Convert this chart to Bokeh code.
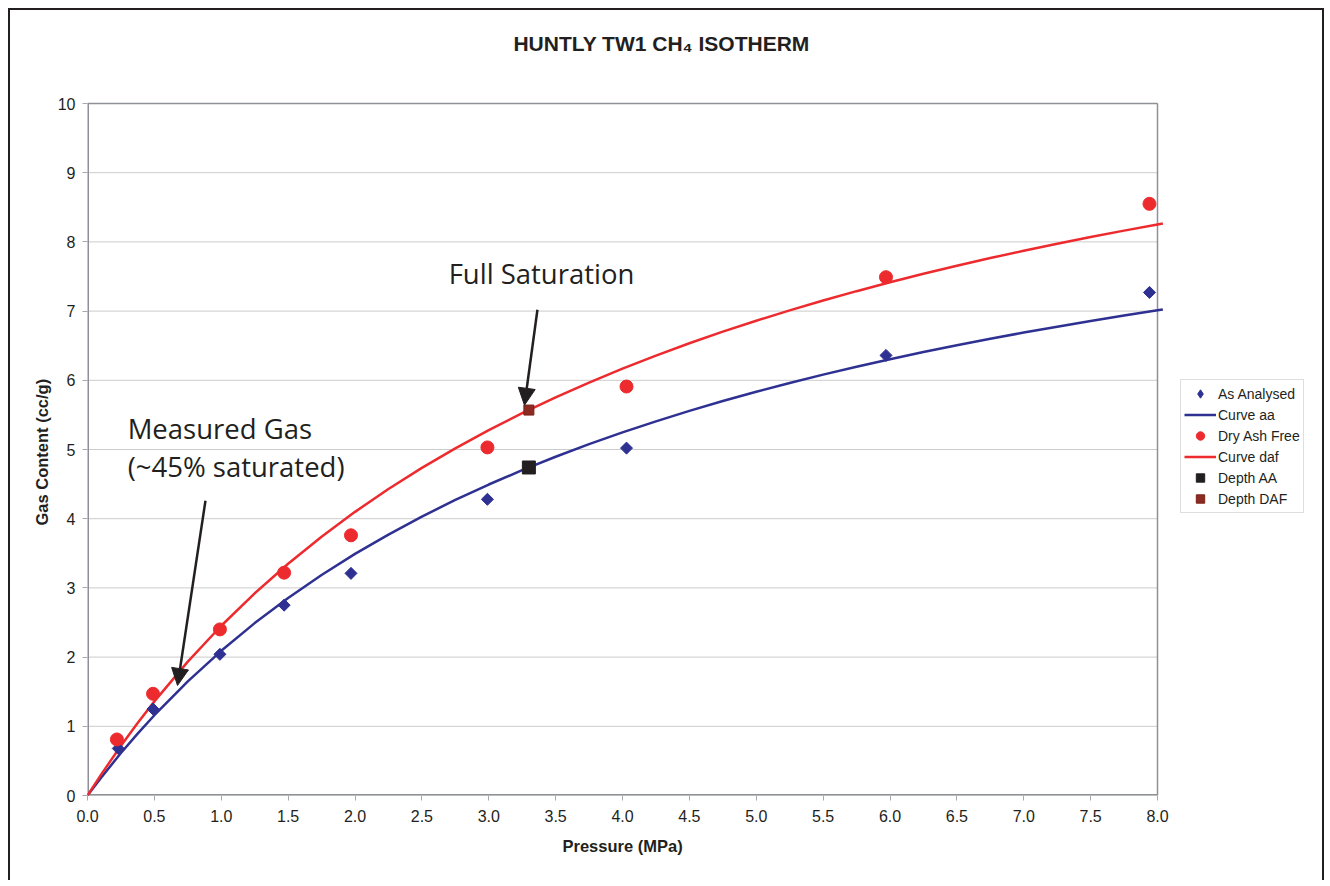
from bokeh.plotting import figure
from bokeh.models import (Label, Arrow, NormalHead, Legend, LegendItem, Range1d,
                          FixedTicker, NumeralTickFormatter, Title)
from bokeh.embed import file_html
from bokeh.resources import INLINE

# ---------------- data ----------------
pressure_aa = [0.23, 0.49, 0.99, 1.47, 1.97, 2.99, 4.03, 5.97, 7.94]
gas_aa = [0.68, 1.25, 2.04, 2.75, 3.21, 4.28, 5.02, 6.36, 7.27]

pressure_daf = [0.22, 0.49, 0.99, 1.47, 1.97, 2.99, 4.03, 5.97, 7.94]
gas_daf = [0.81, 1.47, 2.40, 3.22, 3.76, 5.03, 5.91, 7.49, 8.55]

curve_pressure = [0.0, 0.1, 0.25, 0.375, 0.5, 0.75, 1.0, 1.25, 1.5, 1.75, 2.0, 2.25,
                  2.5, 2.75, 3.0, 3.25, 3.5, 3.75, 4.0, 4.25, 4.5, 4.75, 5.0, 5.25,
                  5.5, 5.75, 6.0, 6.25, 6.5, 6.75, 7.0, 7.25, 7.5, 7.75, 8.0, 8.04]
curve_aa = [0.0, 0.254, 0.614, 0.895, 1.160, 1.650, 2.091, 2.491, 2.854, 3.186, 3.491,
            3.771, 4.031, 4.271, 4.494, 4.701, 4.895, 5.077, 5.247, 5.407, 5.558,
            5.700, 5.834, 5.961, 6.082, 6.196, 6.304, 6.408, 6.506, 6.600, 6.690,
            6.775, 6.857, 6.936, 7.011, 7.023]
curve_daf = [0.0, 0.298, 0.719, 1.049, 1.360, 1.935, 2.453, 2.922, 3.349, 3.740, 4.099,
             4.429, 4.734, 5.017, 5.280, 5.525, 5.753, 5.967, 6.168, 6.357, 6.535,
             6.703, 6.861, 7.011, 7.153, 7.288, 7.417, 7.539, 7.655, 7.766, 7.872,
             7.973, 8.070, 8.163, 8.252, 8.265]

depth_pressure = [3.30]
depth_aa = [4.74]
depth_daf = [5.57]

x_ticks = [0.0, 0.5, 1.0, 1.5, 2.0, 2.5, 3.0, 3.5, 4.0, 4.5, 5.0, 5.5, 6.0, 6.5, 7.0, 7.5, 8.0]
y_ticks = [0, 1, 2, 3, 4, 5, 6, 7, 8, 9, 10]
X_AXIS_MAX = 8.0
Y_AXIS_MAX = 10.0

BLUE = "#2e3192"
RED = "#ed2b2e"
DARK = "#231f20"
GRAY = "#8e9196"
FONT = "Liberation Sans"

# layout: the frame is widened to the right and upward so that the legend and the
# chart title (outside the plot box) lie inside the drawable area; the plot box itself
# is drawn from 0..8 by 0..10.
CANVAS_W, CANVAS_H = 1316, 872
MB_LEFT, MB_RIGHT, MB_TOP, MB_BOTTOM = 77, 10, 0, 87
BOX_W, BOX_H = 1070, 692          # pixel size of the 0..8 x 0..10 plot box
FRAME_W = CANVAS_W - MB_LEFT - MB_RIGHT
FRAME_H = CANVAS_H - MB_TOP - MB_BOTTOM
x_end = X_AXIS_MAX * FRAME_W / BOX_W
y_end = Y_AXIS_MAX * FRAME_H / BOX_H

p = figure(width=CANVAS_W, height=CANVAS_H, x_range=Range1d(0, x_end),
           y_range=Range1d(0, y_end),
           output_backend="svg", toolbar_location=None,
           min_border_left=MB_LEFT, min_border_right=MB_RIGHT,
           min_border_top=MB_TOP, min_border_bottom=MB_BOTTOM)
p.styles = {"margin-left": "8px", "margin-top": "8px",
            "border-left": "2px solid #231f20", "border-top": "2px solid #231f20",
            "border-right": "2px solid #231f20"}
p.background_fill_color = "white"
p.border_fill_color = "white"
p.outline_line_color = None

p.xgrid.visible = False
p.ygrid.visible = False

for ax in (p.xaxis[0], p.yaxis[0]):
    ax.axis_line_color = None
    ax.major_tick_line_color = "#a7a9ac"
    ax.major_tick_out = 5
    ax.major_tick_in = 0
    ax.minor_tick_line_color = None
    ax.major_label_text_font = FONT
    ax.major_label_text_font_size = "16px"
    ax.major_label_text_color = DARK

p.xaxis.ticker = FixedTicker(ticks=x_ticks)
p.xaxis.formatter = NumeralTickFormatter(format="0.0")
p.yaxis.ticker = FixedTicker(ticks=y_ticks)
p.xaxis.major_label_standoff = 9
p.yaxis.major_label_standoff = 7

# axis titles, centred on the 0..8 x 0..10 plot box
p.add_layout(Title(text="Pressure (MPa)", text_font=FONT, text_font_size="16.5px",
                   text_font_style="bold", text_color=DARK, align="left", offset=475,
                   standoff=20), "below")
p.add_layout(Title(text="Gas Content (cc/g)", text_font=FONT, text_font_size="16.5px",
                   text_font_style="bold", text_color=DARK, align="left", offset=270,
                   standoff=8), "left")

# chart title
p.add_layout(Label(x=4.292, y=10.867, text="HUNTLY TW1 CH\u2084 ISOTHERM", text_font=FONT,
                   text_font_size="21px", text_font_style="bold", text_color=DARK,
                   text_align="center", text_baseline="middle"))

# horizontal grid lines and plot box
p.segment(x0=[0] * len(y_ticks), y0=y_ticks, x1=[X_AXIS_MAX] * len(y_ticks), y1=y_ticks,
          line_color="#cccccc", line_width=1)
p.segment(x0=[0, X_AXIS_MAX], y0=[Y_AXIS_MAX, 0], x1=[X_AXIS_MAX, X_AXIS_MAX],
          y1=[Y_AXIS_MAX, Y_AXIS_MAX], line_color=GRAY, line_width=1.5)
p.segment(x0=[0, 0], y0=[0, 0], x1=[X_AXIS_MAX, 0], y1=[0, Y_AXIS_MAX],
          line_color=GRAY, line_width=3)

# ---------------- glyphs ----------------
r_curve_aa = p.line(curve_pressure, curve_aa, line_color=BLUE, line_width=2.5)
r_curve_daf = p.line(curve_pressure, curve_daf, line_color=RED, line_width=2.5)
r_aa = p.scatter(pressure_aa, gas_aa, marker="square", angle=0.785398, size=8.5,
                 fill_color=BLUE, line_color=BLUE)
r_daf = p.scatter(pressure_daf, gas_daf, marker="circle", size=13,
                  fill_color=RED, line_color=RED)
r_depth_aa = p.scatter(depth_pressure, depth_aa, marker="square", size=13,
                       fill_color=DARK, line_color=DARK)
r_depth_daf = p.scatter(depth_pressure, depth_daf, marker="square", size=10,
                        fill_color="#8b2b22", line_color="#7a2118")
# hidden diamond twin of the As Analysed points, used only as the legend key
r_aa_key = p.scatter(pressure_aa, gas_aa, marker="diamond", size=13,
                     fill_color=BLUE, line_color=BLUE, visible=False)

# ---------------- annotations ----------------
for x, y, t in [(2.70, 7.54, "Full Saturation"), (0.30, 5.30, "Measured Gas"),
                (0.30, 4.75, "(~45% saturated)")]:
    p.add_layout(Label(x=x, y=y, text=t, text_font="Open Sans", text_font_size="27.5px",
                       text_color=DARK, text_align="left", text_baseline="middle"))

for xs, ys, xe, ye in [(3.364, 7.02, 3.267, 5.64), (0.882, 4.26, 0.673, 1.59)]:
    p.add_layout(Arrow(x_start=xs, y_start=ys, x_end=xe, y_end=ye, line_color=DARK,
                       line_width=2.5,
                       end=NormalHead(size=17, fill_color=DARK, line_color=DARK)))

legend = Legend(items=[
    LegendItem(label="As Analysed", renderers=[r_aa_key]),
    LegendItem(label="Curve aa", renderers=[r_curve_aa]),
    LegendItem(label="Dry Ash Free", renderers=[r_daf]),
    LegendItem(label="Curve daf", renderers=[r_curve_daf]),
    LegendItem(label="Depth AA", renderers=[r_depth_aa]),
    LegendItem(label="Depth DAF", renderers=[r_depth_daf]),
], location=(1093, 282))
legend.label_text_font = FONT
legend.label_text_font_size = "14px"
legend.label_text_color = DARK
legend.label_height = 21
legend.glyph_height = 21
legend.glyph_width = 32
legend.label_standoff = 2
legend.spacing = 0
legend.padding = 3
legend.margin = 0
legend.border_line_color = "#bcbec0"
legend.border_line_width = 1
legend.background_fill_color = "white"
legend.inactive_fill_alpha = 0
p.add_layout(legend, "center")

open("out.html", "w").write(file_html(p, INLINE))
